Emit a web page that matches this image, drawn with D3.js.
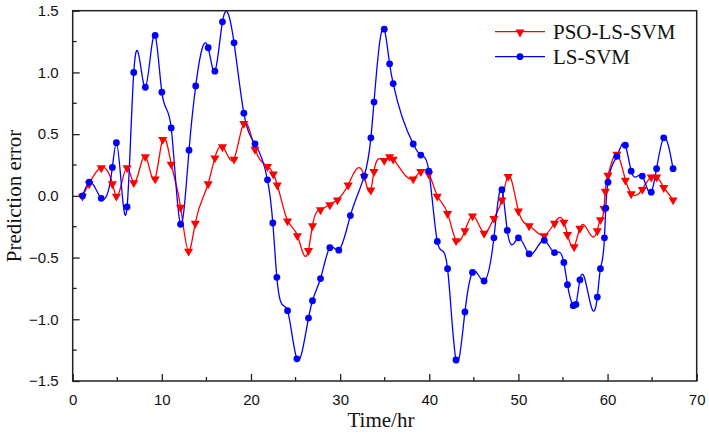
<!DOCTYPE html>
<html><head><meta charset="utf-8">
<script src="https://cdn.jsdelivr.net/npm/d3@7"></script>
<style>body{margin:0;background:#fff}svg{display:block}</style>
</head><body>
<script>
const lsTime = [1.1, 1.85, 3.2, 4.45, 4.9, 6.1, 6.85, 8.15, 9.25, 10.0, 11.05, 12.1, 13.05, 13.8, 15.2, 15.95, 16.8, 18.1, 19.2, 20.45, 21.85, 22.45, 22.9, 24.1, 25.15, 26.45, 26.9, 27.8, 28.85, 29.85, 31.15, 32.7, 33.45, 33.8, 34.95, 35.55, 35.95, 38.2, 39.05, 39.95, 40.9, 42.05, 43.0, 44.0, 44.85, 46.15, 47.25, 48.15, 48.75, 50.0, 51.2, 52.9, 54.05, 55.1, 55.5, 56.15, 56.45, 56.9, 58.85, 59.2, 59.65, 59.8, 60.05, 61.05, 62.0, 62.65, 63.9, 64.9, 65.5, 66.3, 67.35];
const lsError = [0.0, 0.11, -0.02, 0.23, 0.43, -0.09, 1.0, 0.88, 1.3, 0.84, 0.55, -0.23, 0.37, 0.89, 1.2, 1.01, 1.41, 1.24, 0.67, 0.42, 0.13, -0.22, -0.66, -0.93, -1.32, -0.99, -0.85, -0.67, -0.42, -0.44, -0.16, 0.16, 0.47, 0.76, 1.35, 1.07, 0.91, 0.42, 0.33, 0.2, -0.37, -0.59, -1.33, -0.94, -0.62, -0.69, -0.34, 0.05, -0.28, -0.34, -0.47, -0.36, -0.46, -0.54, -0.72, -0.89, -0.88, -0.68, -0.82, -0.59, -0.34, -0.1, 0.11, 0.32, 0.41, 0.2, 0.16, 0.03, 0.22, 0.47, 0.22];
const psoTime = [1.1, 1.85, 3.2, 4.45, 4.9, 6.1, 6.85, 8.15, 9.25, 10.1, 11.05, 12.1, 13.0, 13.75, 15.2, 15.95, 16.8, 18.1, 19.2, 20.45, 21.85, 22.5, 22.95, 24.1, 25.2, 26.45, 26.9, 27.8, 28.85, 29.7, 30.9, 32.7, 33.45, 33.8, 34.95, 35.55, 35.95, 38.2, 39.05, 39.95, 40.9, 42.05, 43.0, 44.0, 44.85, 46.15, 47.25, 48.15, 48.85, 50.0, 51.2, 52.9, 54.05, 55.1, 55.5, 56.25, 56.9, 58.85, 59.2, 59.6, 59.75, 60.05, 61.05, 62.0, 62.65, 63.9, 64.9, 65.5, 66.3, 67.35];
const psoError = [0.0, 0.1, 0.23, 0.1, 0.0, 0.23, 0.11, 0.32, 0.14, 0.46, 0.26, -0.09, -0.445, -0.22, 0.1, 0.31, 0.4, 0.3, 0.59, 0.38, 0.24, 0.18, 0.09, -0.2, -0.32, -0.44, -0.24, -0.11, -0.07, -0.03, 0.09, 0.16, 0.05, 0.2, 0.29, 0.32, 0.3, 0.14, 0.2, 0.18, 0.0, -0.14, -0.36, -0.28, -0.16, -0.3, -0.18, -0.03, 0.16, -0.12, -0.24, -0.32, -0.22, -0.21, -0.31, -0.41, -0.26, -0.28, -0.19, -0.1, 0.04, 0.17, 0.34, 0.13, 0.02, 0.055, 0.155, 0.155, 0.07, -0.03];
const xTicks = [0, 10, 20, 30, 40, 50, 60, 70];
const yTicks = [-1.5, -1.0, -0.5, 0.0, 0.5, 1.0, 1.5];
const seriesNames = ["PSO-LS-SVM", "LS-SVM"];

const W = 709, H = 436;
const L = 72.7, R = 696.7, T = 10.7, B = 381;
const svg = d3.select("body").append("svg").attr("width", W).attr("height", H);
const x = d3.scaleLinear().domain([0, 70]).range([L, R]);
const y = d3.scaleLinear().domain([-1.5, 1.5]).range([B, T]);

// Natural cubic spline with y as a function of x (like Origin's "Spline" connection)
function SplineX(context) { this._context = context; }
SplineX.prototype = {
  areaStart() { this._line = 0; }, areaEnd() { this._line = NaN; },
  lineStart() { this._x = []; this._y = []; },
  point(px, py) { this._x.push(+px); this._y.push(+py); },
  lineEnd() {
    const X = this._x, Y = this._y, n = X.length, c = this._context;
    if (!n) return;
    c.moveTo(X[0], Y[0]);
    if (n === 2) { c.lineTo(X[1], Y[1]); return; }
    const h = [], M = new Array(n).fill(0);
    for (let i = 0; i < n - 1; i++) h.push(X[i + 1] - X[i]);
    // tridiagonal solve for second derivatives, natural ends
    const a = [], b = [], cc = [], d = [];
    for (let i = 1; i < n - 1; i++) {
      a.push(h[i - 1]); b.push(2 * (h[i - 1] + h[i])); cc.push(h[i]);
      d.push(6 * ((Y[i + 1] - Y[i]) / h[i] - (Y[i] - Y[i - 1]) / h[i - 1]));
    }
    const m = b.length;
    for (let i = 1; i < m; i++) { const w = a[i] / b[i - 1]; b[i] -= w * cc[i - 1]; d[i] -= w * d[i - 1]; }
    const sol = new Array(m);
    sol[m - 1] = d[m - 1] / b[m - 1];
    for (let i = m - 2; i >= 0; i--) sol[i] = (d[i] - cc[i] * sol[i + 1]) / b[i];
    for (let i = 0; i < m; i++) M[i + 1] = sol[i];
    for (let i = 0; i < n - 1; i++) {
      const hi = h[i], s = (Y[i + 1] - Y[i]) / hi;
      const d0 = s - hi * (2 * M[i] + M[i + 1]) / 6;
      const d1 = s + hi * (M[i] + 2 * M[i + 1]) / 6;
      c.bezierCurveTo(X[i] + hi / 3, Y[i] + d0 * hi / 3, X[i + 1] - hi / 3, Y[i + 1] - d1 * hi / 3, X[i + 1], Y[i + 1]);
    }
  }
};
const curveSplineX = ctx => new SplineX(ctx);

const series = [
  {name: seriesNames[0], color: "#ff0000", sym: "tri", pts: psoTime.map((t, i) => [t, psoError[i]])},
  {name: seriesNames[1], color: "#0000ff", sym: "circ", pts: lsTime.map((t, i) => [t, lsError[i]])}
];

const line = d3.line().x(d => x(d[0])).y(d => y(d[1])).curve(curveSplineX);
const tri = d3.symbol().type(d3.symbolTriangle).size(36);

const plot = svg.append("g");
plot.append("defs").append("clipPath").attr("id", "clip").append("rect")
  .attr("x", L).attr("y", T).attr("width", R - L).attr("height", B - T);

function drawMarker(g, s, cx, cy) {
  if (s.sym === "circ") {
    g.append("circle").attr("cx", cx).attr("cy", cy).attr("r", 3.4).attr("fill", s.color);
  } else {
    g.append("path").attr("d", tri()).attr("transform", `translate(${cx},${cy + 0.5}) rotate(180)`).attr("fill", s.color);
  }
}

series.forEach(s => {
  plot.append("path").datum(s.pts).attr("d", line).attr("fill", "none")
    .attr("stroke", s.color).attr("stroke-width", 1.3).attr("clip-path", "url(#clip)");
});
series.forEach(s => {
  const g = plot.append("g");
  s.pts.forEach(p => drawMarker(g, s, x(p[0]), y(p[1])));
});

// frame
const axisColor = "#222";
svg.append("rect").attr("x", L).attr("y", T).attr("width", R - L).attr("height", B - T)
  .attr("fill", "none").attr("stroke", axisColor).attr("stroke-width", 1.5);

// x ticks (inside)
const xMinor = d3.range(5, 70, 10);
const xg = svg.append("g").attr("transform", `translate(0,${B})`);
xg.call(d3.axisBottom(x).tickValues(xTicks).tickSize(-7).tickPadding(13).tickFormat(d3.format("d")));
xg.select(".domain").remove();
xg.selectAll(".tick line").attr("stroke", axisColor).attr("stroke-width", 1.3);
xg.selectAll(".tick text").attr("font-family", "Liberation Sans, Arial, sans-serif").attr("font-size", 15).attr("fill", "#111");
xMinor.forEach(v => svg.append("line").attr("x1", x(v)).attr("x2", x(v)).attr("y1", B).attr("y2", B - 4).attr("stroke", axisColor).attr("stroke-width", 1.3));

const yg = svg.append("g").attr("transform", `translate(${L},0)`);
yg.call(d3.axisLeft(y).tickValues(yTicks).tickSize(-7).tickPadding(14).tickFormat(d => d3.format(".1f")(d).replace("-", "\u2212")));
yg.select(".domain").remove();
yg.selectAll(".tick line").attr("stroke", axisColor).attr("stroke-width", 1.3);
yg.selectAll(".tick text").attr("font-family", "Liberation Sans, Arial, sans-serif").attr("font-size", 15).attr("fill", "#111");
d3.range(-1.25, 1.5, 0.5).forEach(v => svg.append("line").attr("x1", L).attr("x2", L + 4).attr("y1", y(v)).attr("y2", y(v)).attr("stroke", axisColor).attr("stroke-width", 1.3));

// axis titles
svg.append("text").attr("x", 381).attr("y", 427).attr("text-anchor", "middle")
  .attr("font-family", "Liberation Serif, Times New Roman, serif").attr("font-size", 21).attr("fill", "#111").text("Time/hr");
svg.append("text").attr("transform", "translate(21,196) rotate(-90)").attr("text-anchor", "middle")
  .attr("font-family", "Liberation Serif, Times New Roman, serif").attr("font-size", 21).attr("fill", "#111").text("Prediction error");

// legend
series.forEach((s, i) => {
  const ly = 31.7 + i * 25;
  svg.append("line").attr("x1", 495).attr("x2", 545).attr("y1", ly).attr("y2", ly).attr("stroke", s.color).attr("stroke-width", 1.3);
  drawMarker(svg, s, 520, ly);
  svg.append("text").attr("x", 553).attr("y", ly + 7.3).attr("font-family", "Liberation Serif, Times New Roman, serif")
    .attr("font-size", 21).attr("fill", "#111").text(s.name);
});
</script>
</body></html>
